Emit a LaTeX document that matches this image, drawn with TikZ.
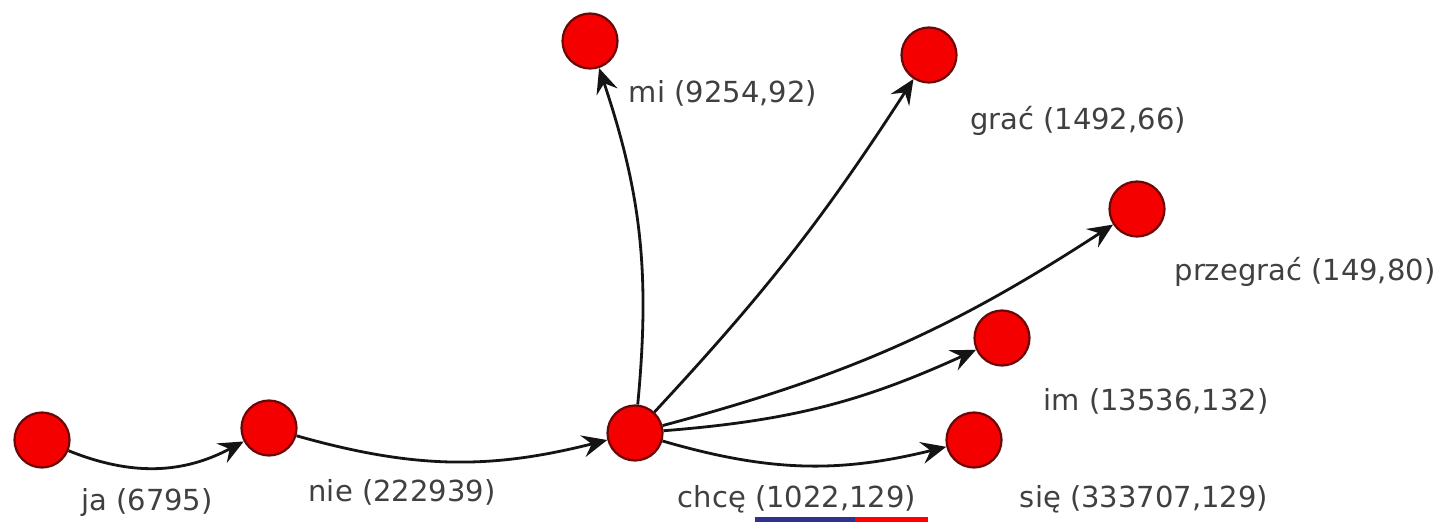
\documentclass[tikz,border=0pt]{standalone}
\usepackage{fontspec}
\setmainfont{DejaVu Sans}
\usetikzlibrary{arrows.meta}
\definecolor{nodered}{HTML}{F40000}
\definecolor{nodeborder}{HTML}{6A0808}
\definecolor{labelgray}{HTML}{404040}
\definecolor{barblue}{HTML}{303090}
\definecolor{barred}{HTML}{FF0000}
\begin{document}
\begin{tikzpicture}[x=1pt,y=-1pt,
  vtx/.style={circle, fill=nodered, draw=nodeborder, line width=2.2pt, minimum size=55pt, inner sep=0pt},
  lbl/.style={text=labelgray, font=\fontsize{29}{34}\selectfont, inner sep=0pt},
  edge/.style={line width=2.8pt, draw=black!92, -{Stealth[length=25pt,width=22pt,inset=9pt]}}]
\useasboundingbox[fill=white] (0,0) rectangle (1444,522);
% vertices
\node[vtx] (ja)   at (42,440) {};
\node[vtx] (nie)  at (269,428) {};
\node[vtx] (chce) at (635,433) {};
\node[vtx] (mi)   at (590,41) {};
\node[vtx] (grac) at (929,55) {};
\node[vtx] (prz)  at (1137,209) {};
\node[vtx] (im)   at (1002,338) {};
\node[vtx] (sie)  at (974,440) {};
% edges
\draw[edge] (ja) to[bend right=25] (nie);
\draw[edge] (nie) to[bend right=15] (chce);
\draw[edge] (chce) to[bend right=12] (mi);
\draw[edge] (chce) to[bend right=5] (grac);
\draw[edge] (chce) to[bend right=9] (prz);
\draw[edge] (chce) to[bend right=10] (im);
\draw[edge] (chce) to[bend right=15] (sie);
% labels
\node[lbl] (lja)   at (147,502) {ja (6795)};
\node[lbl] (lnie)  at (402,492) {nie (222939)};
\node[lbl] (lchce) at (797,499) {chcę (1022,129)};
\node[lbl] (lmi)   at (723,93) {mi (9254,92)};
\node[lbl] (lgrac) at (1078,121) {grać (1492,66)};
\node[lbl] (lprz)  at (1305,272) {przegrać (149,80)};
\node[lbl] (lim)   at (1156,401) {im (13536,132)};
\node[lbl] (lsie)  at (1144,499) {się (333707,129)};
% bar at bottom
\fill[barblue] (755,517) rectangle (855,522);
\fill[barred] (855,517) rectangle (928,522);
\end{tikzpicture}
\end{document}
